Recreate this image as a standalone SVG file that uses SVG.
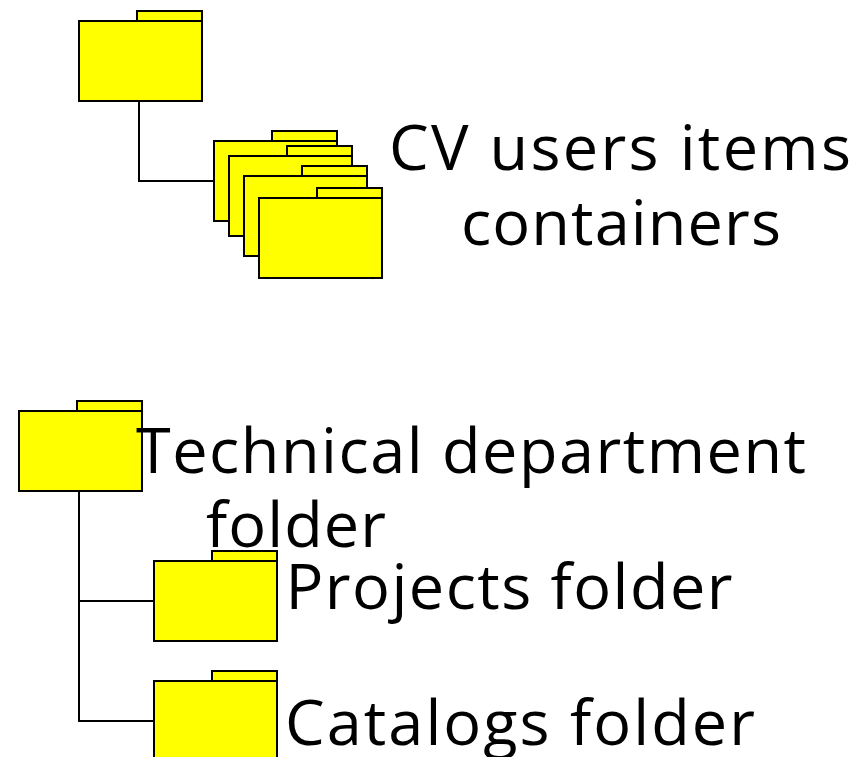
<svg xmlns="http://www.w3.org/2000/svg" width="863" height="757" viewBox="0 0 863 757">
<defs>
<style>
.f{fill:#ffff00;stroke:#000;stroke-width:2}
.c{fill:none;stroke:#000;stroke-width:2}
text{font-family:"Open Sans","DejaVu Sans",sans-serif;font-size:63px;fill:#000;text-anchor:middle}
</style>
<g id="folder"><rect class="f" x="58" y="0" width="65" height="10"/><rect class="f" x="0" y="10" width="123" height="80"/></g>
</defs>
<rect width="863" height="757" fill="#fff"/>
<g id="connectors">
<path class="c" d="M139 101V181H214"/>
<path class="c" d="M79 491V721H154M79 601H154"/>
</g>
<g id="n1"><use href="#folder" x="79" y="11"/></g>
<g id="n2"><use href="#folder" x="214" y="131"/><use href="#folder" x="229" y="146"/><use href="#folder" x="244" y="166"/><use href="#folder" x="259" y="188"/><text x="620" y="170" textLength="462" lengthAdjust="spacing">CV users items</text><text x="621" y="245" textLength="320" lengthAdjust="spacing">containers</text></g>
<g id="n3"><use href="#folder" x="19" y="401"/><text x="471" y="473" textLength="670" lengthAdjust="spacing">Technical department</text><text x="296" y="547" textLength="180" lengthAdjust="spacing">folder</text></g>
<g id="n4"><use href="#folder" x="154" y="551"/><text x="509" y="609" textLength="447" lengthAdjust="spacing">Projects folder</text></g>
<g id="n5"><use href="#folder" x="154" y="671"/><text x="520" y="745" textLength="470" lengthAdjust="spacing">Catalogs folder</text></g>
</svg>
